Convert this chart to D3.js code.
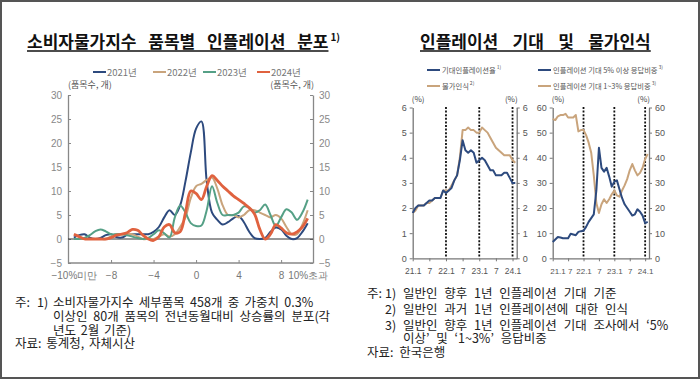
<!DOCTYPE html>
<html>
<head>
<meta charset="utf-8">
<script src="https://cdn.jsdelivr.net/npm/d3@7"></script>
<style>
  body { margin: 0; background: #fff; }
  svg text { font-family: "Noto Sans CJK KR", "Liberation Sans", sans-serif; }
  .tick text { font-family: "Liberation Sans", Arial, sans-serif; }
</style>
</head>
<body>
<svg id="chart" width="700" height="379"></svg>
<script>
// ---- left chart: distribution of CPI item inflation (items count per bin) ----
var binX = [-11.5, -11, -10.5, -10, -9.5, -9, -8.5, -8, -7.5, -7, -6.5, -6, -5.5, -5, -4.5, -4, -3.5, -3, -2.5, -2, -1.5, -1, -0.5,
  0, 0.5, 1, 1.5, 2, 2.5, 3, 3.5, 4, 4.5, 5, 5.5, 6, 6.5, 7, 7.5, 8, 8.5, 9, 9.5, 10, 10.5];
var items2021 = [0.3, 0.8, 1.0, 0.3, 0, 0.2, 0.8, 1.0, 0.4, 0.3, 0.8, 1.0, 1.0, 1.0, 1.0, 1.5, 2.5, 4.5, 6.0, 5.0, 7.0, 12, 18,
  23, 24.5, 12, 5.5, 4.0, 3.0, 3.5, 4.3, 4.8, 3.5, 1.5, 0.2, 0, 0.2, 1.5, 2.4, 2.0, 0.7, 0, 0.2, 1.5, 3.3];
var items2022 = [0, 0, 0, 0, 0, 0, 0, 0.5, 1.0, 1.0, 1.0, 1.0, 0.5, 0, 0, 0, 0.5, 1.0, 0.5, 1.0, 2.5, 4.5, 8.5,
  11, 11.5, 12.3, 12.8, 10.5, 7.0, 5.0, 5.0, 4.5, 5.0, 6.0, 6.0, 5.5, 5.0, 4.5, 5.0, 4.3, 2.5, 1.0, 1.0, 3.0, 6.0];
var items2023 = [0, 0, 0.2, 0.8, 1.6, 2.0, 1.6, 1.0, 1.0, 1.0, 0.8, 0.5, 0.2, 0, 0.2, 1.0, 1.8, 1.2, 0.3, 4.5, 7.0, 5.5, 3.3,
  2.7, 2.8, 6.0, 11, 7.5, 5.0, 5.0, 5.0, 5.5, 6.8, 6.5, 5.5, 6.0, 7.2, 5.0, 2.7, 4.5, 6.2, 5.5, 4.0, 5.5, 8.2];
var items2024 = [1.0, 0.5, 0, 0, 0, 0, 0, 0.3, 0.8, 1.0, 1.3, 2.0, 1.8, 0.8, 0, -0.3, 0.5, 2.5, 3.0, 1.3, 1.5, 5.5, 10,
  9.5, 8.2, 11, 13.2, 12.2, 11, 10, 9.0, 8.2, 7.4, 6.5, 5.2, 2.0, 0, 1.0, 3.0, 2.3, 1.3, 1.0, 1.5, 2.5, 4.3];
var distYears = ['2021년', '2022년', '2023년', '2024년'];
var distTicks = [-11.5, -8, -4, 0, 4, 8, 10.5];
var distTickLabels = ['−10%미만', '−8', '−4', '0', '4', '8', '10%초과'];
var countTicks = [-5, 0, 5, 10, 15, 20, 25, 30];

// ---- right charts: inflation expectations and perception (monthly, 21.1 ~ 24.2) ----
var months = ['21.1', '21.2', '21.3', '21.4', '21.5', '21.6', '21.7', '21.8', '21.9', '21.10', '21.11', '21.12',
  '22.1', '22.2', '22.3', '22.4', '22.5', '22.6', '22.7', '22.8', '22.9', '22.10', '22.11', '22.12',
  '23.1', '23.2', '23.3', '23.4', '23.5', '23.6', '23.7', '23.8', '23.9', '23.10', '23.11', '23.12',
  '24.1', '24.2'];
var expInfl = [1.8, 2.0, 2.1, 2.1, 2.1, 2.2, 2.3, 2.3, 2.4, 2.4, 2.4, 2.7,
  2.6, 2.7, 2.8, 3.1, 3.3, 3.9, 4.7, 4.3, 4.2, 4.3, 4.2, 3.8,
  3.9, 4.0, 3.9, 3.7, 3.5, 3.5, 3.3, 3.3, 3.3, 3.4, 3.4, 3.2,
  3.0, 3.0];
var perceived = [1.8, 1.9, 2.1, 2.1, 2.1, 2.2, 2.2, 2.3, 2.4, 2.4, 2.4, 2.7,
  2.7, 2.7, 2.9, 3.1, 3.3, 4.0, 5.1, 5.1, 5.2, 5.1, 5.1, 5.0,
  5.0, 5.2, 5.1, 5.0, 4.8, 4.6, 4.4, 4.3, 4.2, 4.1, 4.1, 4.1,
  3.9, 3.8];
var share5plus = [6.5, 7.5, 8.5, 8.3, 8.0, 8.0, 8.0, 9.8, 9.5, 9.2, 10.5, 10.8,
  11.0, 12.5, 14.5, 16.0, 17.5, 27.0, 44.0, 36.0, 34.5, 36.0, 32.5, 28.5,
  30.5, 31.0, 27.5, 24.0, 21.5, 20.0, 18.5, 17.0, 17.5, 19.5, 18.5, 17.0,
  14.0, 14.5];
var share1to3 = [55.5, 55.0, 56.5, 57.0, 57.0, 57.5, 56.0, 56.0, 56.0, 57.0, 50.5, 51.0,
  51.0, 49.0, 46.0, 42.0, 33.0, 22.0, 18.0, 21.5, 23.5, 22.0, 23.5, 25.5,
  27.0, 25.0, 24.5, 27.0, 29.0, 31.5, 35.0, 37.5, 35.0, 33.0, 34.0, 36.0,
  39.5, 41.5];
var monthTicks = ['21.1', '21.7', '22.1', '22.7', '23.1', '23.7', '24.1'];
var monthTickLabels = ['21.1', '7', '22.1', '7', '23.1', '7', '24.1'];
var markerMonths = ['22.1', '23.1', '24.1'];
var rateTicks = [0, 1, 2, 3, 4, 5, 6];
var shareTicks = [0, 10, 20, 30, 40, 50, 60];

var NAVY = '#2d4a7e', TAN = '#c9a47c', GREEN = '#55a086', RED = '#e0623f';

var svg = d3.select('#chart');
svg.append('rect')
  .attr('x', 1).attr('y', 1).attr('width', 698).attr('height', 377)
  .attr('fill', '#fff').attr('stroke', '#555').attr('stroke-width', 2);

function title(x, y, txt, ws, sup) {
  var t = svg.append('text').attr('x', x).attr('y', y)
    .attr('font-size', 17).attr('font-weight', 'bold').attr('fill', '#111')
    .attr('word-spacing', ws).text(txt);
  var w = t.node().getComputedTextLength();
  svg.append('line').attr('x1', x).attr('x2', x + w).attr('y1', y + 3).attr('y2', y + 3)
    .attr('stroke', '#111').attr('stroke-width', 1.3);
  if (sup) {
    svg.append('text').attr('x', x + w + 2).attr('y', y - 7)
      .attr('font-size', 10).attr('font-weight', 'bold').attr('fill', '#111').text(sup);
  }
}

function styleAxis(g, col, lab) {
  g.selectAll('.domain').attr('stroke', col).attr('stroke-width', 1.3);
  g.selectAll('.tick line').attr('stroke', col);
  g.selectAll('.tick text').attr('fill', lab);
}

// ================= left chart =================
title(27, 48, '소비자물가지수 품목별 인플레이션 분포', 8, '1)');

var xDist = d3.scaleLinear().domain([-12.05, 11]).range([68, 313]);
var yDist = d3.scaleLinear().domain([-5, 30]).range([263, 95]);

var fmtNeg = function (d) { return d < 0 ? '−' + Math.abs(d) : d; };

var gl = svg.append('g').attr('transform', 'translate(68,0)')
  .call(d3.axisLeft(yDist).tickValues(countTicks).tickSize(-3).tickSizeOuter(0).tickPadding(6).tickFormat(fmtNeg));
gl.selectAll('.tick text').attr('font-size', 10);
styleAxis(gl, '#888', '#888');

var gr = svg.append('g').attr('transform', 'translate(313,0)')
  .call(d3.axisRight(yDist).tickValues(countTicks).tickSize(-3).tickSizeOuter(0).tickPadding(6).tickFormat(fmtNeg));
gr.selectAll('.tick text').attr('font-size', 10);
styleAxis(gr, '#888', '#888');

var gb = svg.append('g').attr('transform', 'translate(0,263)')
  .call(d3.axisBottom(xDist).tickValues(distTicks).tickSize(-3).tickSizeOuter(0).tickPadding(9)
    .tickFormat(function (d, i) { return distTickLabels[i]; }));
gb.selectAll('.tick text').attr('font-size', 10);
gb.selectAll('.tick').filter(function (d) { return d === -11.5 || d === 10.5; }).select('line').remove();
styleAxis(gb, '#888', '#777');
gb.select('.domain').attr('d', 'M68,0H313');

svg.append('line').attr('x1', 68).attr('x2', 313)
  .attr('y1', yDist(0)).attr('y2', yDist(0)).attr('stroke', '#333').attr('stroke-width', 1.2);

svg.append('text').attr('x', 68).attr('y', 88).attr('font-size', 9).attr('fill', '#555').text('(품목수, 개)');
svg.append('text').attr('x', 314).attr('y', 88).attr('text-anchor', 'end').attr('font-size', 9).attr('fill', '#555').text('(품목수, 개)');

var distSeries = [
  { name: distYears[0], vals: items2021, color: NAVY, w: 2 },
  { name: distYears[1], vals: items2022, color: TAN, w: 2 },
  { name: distYears[2], vals: items2023, color: GREEN, w: 2 },
  { name: distYears[3], vals: items2024, color: RED, w: 2.8 }
];

var distLine = d3.line()
  .x(function (d, i) { return xDist(binX[i]); })
  .y(function (d) { return yDist(d); })
  .curve(d3.curveCatmullRom.alpha(0.5));

svg.append('g').selectAll('path')
  .data(distSeries)
  .enter()
  .append('path')
  .attr('fill', 'none')
  .attr('stroke', function (d) { return d.color; })
  .attr('stroke-width', function (d) { return d.w; })
  .attr('stroke-linejoin', 'round')
  .attr('d', function (d) { return distLine(d.vals); });

// legend
var legX = [93, 153, 203, 257];
distSeries.forEach(function (s, i) {
  svg.append('line').attr('x1', legX[i]).attr('x2', legX[i] + 13).attr('y1', 72).attr('y2', 72)
    .attr('stroke', s.color).attr('stroke-width', 2);
  svg.append('text').attr('x', legX[i] + 14).attr('y', 75.5).attr('font-size', 9.5).attr('fill', '#777').text(s.name);
});

// ================= right charts =================
title(420, 48, '인플레이션 기대 및 물가인식', 10.5);

function monthIdx(m) { return months.indexOf(m); }

function panel(x0, x1, yMax, ticks, s1, s2, fs) {
  var x = d3.scaleLinear().domain([0, 37.5]).range([x0, x1]);
  var y = d3.scaleLinear().domain([0, yMax]).range([258.3, 107.5]);

  var a = svg.append('g').attr('transform', 'translate(' + x0 + ',0)')
    .call(d3.axisLeft(y).tickValues(ticks).tickSize(3).tickSizeOuter(0).tickPadding(3).tickFormat(d3.format('d')));
  a.selectAll('.tick text').attr('font-size', 9);
  styleAxis(a, '#777', '#555');
  var b = svg.append('g').attr('transform', 'translate(' + x1 + ',0)')
    .call(d3.axisRight(y).tickValues(ticks).tickSize(3).tickSizeOuter(0).tickPadding(3).tickFormat(d3.format('d')));
  b.selectAll('.tick text').attr('font-size', 9);
  styleAxis(b, '#777', '#555');
  var c = svg.append('g').attr('transform', 'translate(0,258.3)')
    .call(d3.axisBottom(x).tickValues(monthTicks.map(monthIdx)).tickSize(3).tickSizeOuter(0).tickPadding(7)
      .tickFormat(function (d, i) { return monthTickLabels[i]; }));
  c.selectAll('.tick text').attr('font-size', fs);
  styleAxis(c, '#777', '#555');

  svg.append('g').selectAll('line')
    .data(markerMonths)
    .enter()
    .append('line')
    .attr('x1', function (d) { return x(monthIdx(d)); })
    .attr('x2', function (d) { return x(monthIdx(d)); })
    .attr('y1', 107).attr('y2', 258)
    .attr('stroke', '#111').attr('stroke-width', 1.8).attr('stroke-dasharray', '2,1.6');

  var line = d3.line()
    .x(function (d, i) { return x(i); })
    .y(function (d) { return y(d); });
  [[s2, TAN], [s1, NAVY]].forEach(function (p) {
    svg.append('path').attr('fill', 'none').attr('stroke', p[1]).attr('stroke-width', 2)
      .attr('stroke-linejoin', 'round').attr('d', line(p[0]));
  });

  svg.append('text').attr('x', x0 - 1).attr('y', 102).attr('font-size', 8).attr('fill', '#444').text('(%)');
  svg.append('text').attr('x', x1 + 1).attr('y', 102).attr('text-anchor', 'end').attr('font-size', 8).attr('fill', '#444').text('(%)');
  return c;
}

panel(412.7, 516.7, 6, rateTicks, expInfl, perceived, 8.5);
var cB = panel(552.7, 649, 60, shareTicks, share5plus, share1to3, 8);
cB.selectAll('.tick').filter(function (d) { return d === 0; }).select('text').attr('text-anchor', 'start').attr('dx', -3);
cB.selectAll('.tick').filter(function (d) { return d === 6; }).select('text').attr('dx', 1.5);

// right legend
var rLeg = [
  { x: 427, y: 70, c: NAVY, t: '기대인플레이션율', s: '1)' },
  { x: 427, y: 86, c: TAN, t: '물가인식', s: '2)' },
  { x: 538, y: 70, c: NAVY, t: '인플레이션 기대 5% 이상 응답비중', s: '3)' },
  { x: 538, y: 86, c: TAN, t: '인플레이션 기대 1~3% 응답비중', s: '3)' }
];
rLeg.forEach(function (d) {
  svg.append('line').attr('x1', d.x).attr('x2', d.x + 13).attr('y1', d.y).attr('y2', d.y)
    .attr('stroke', d.c).attr('stroke-width', 2);
  var t = svg.append('text').attr('x', d.x + 15).attr('y', d.y + 2.6).attr('font-size', 7.3).attr('fill', '#555').text(d.t);
  var w = t.node().getComputedTextLength();
  svg.append('text').attr('x', d.x + 16 + w).attr('y', d.y - 1).attr('font-size', 5).attr('fill', '#555').text(d.s);
});

// ================= notes =================
function note(x, y, txt, ws) {
  svg.append('text').attr('x', x).attr('y', y).attr('font-size', 12.5)
    .attr('word-spacing', ws || 0).attr('fill', '#222').text(txt);
}
note(15, 307, '주:');
note(37, 307, '1)');
note(53, 307, '소비자물가지수 세부품목 458개 중 가중치 0.3%', 2.5);
note(53, 321, '이상인 80개 품목의 전년동월대비 상승률의 분포(각', 3);
note(53, 334.5, '년도 2월 기준)', 2);
note(15, 348, '자료: 통계청, 자체시산', 2);

note(367, 298, '주:');
note(385, 298, '1)');
note(403, 298, '일반인 향후 1년 인플레이션 기대 기준', 4);
note(385, 313.5, '2)');
note(403, 313.5, '일반인 과거 1년 인플레이션에 대한 인식', 4);
note(385, 329.5, '3)');
note(403, 329.5, '일반인 향후 1년 인플레이션 기대 조사에서  ‘5%', 4);
note(403, 343, '이상’ 및  ‘1~3%’ 응답비중', 4);
note(367, 357, '자료: 한국은행', 3);
</script>
</body>
</html>
